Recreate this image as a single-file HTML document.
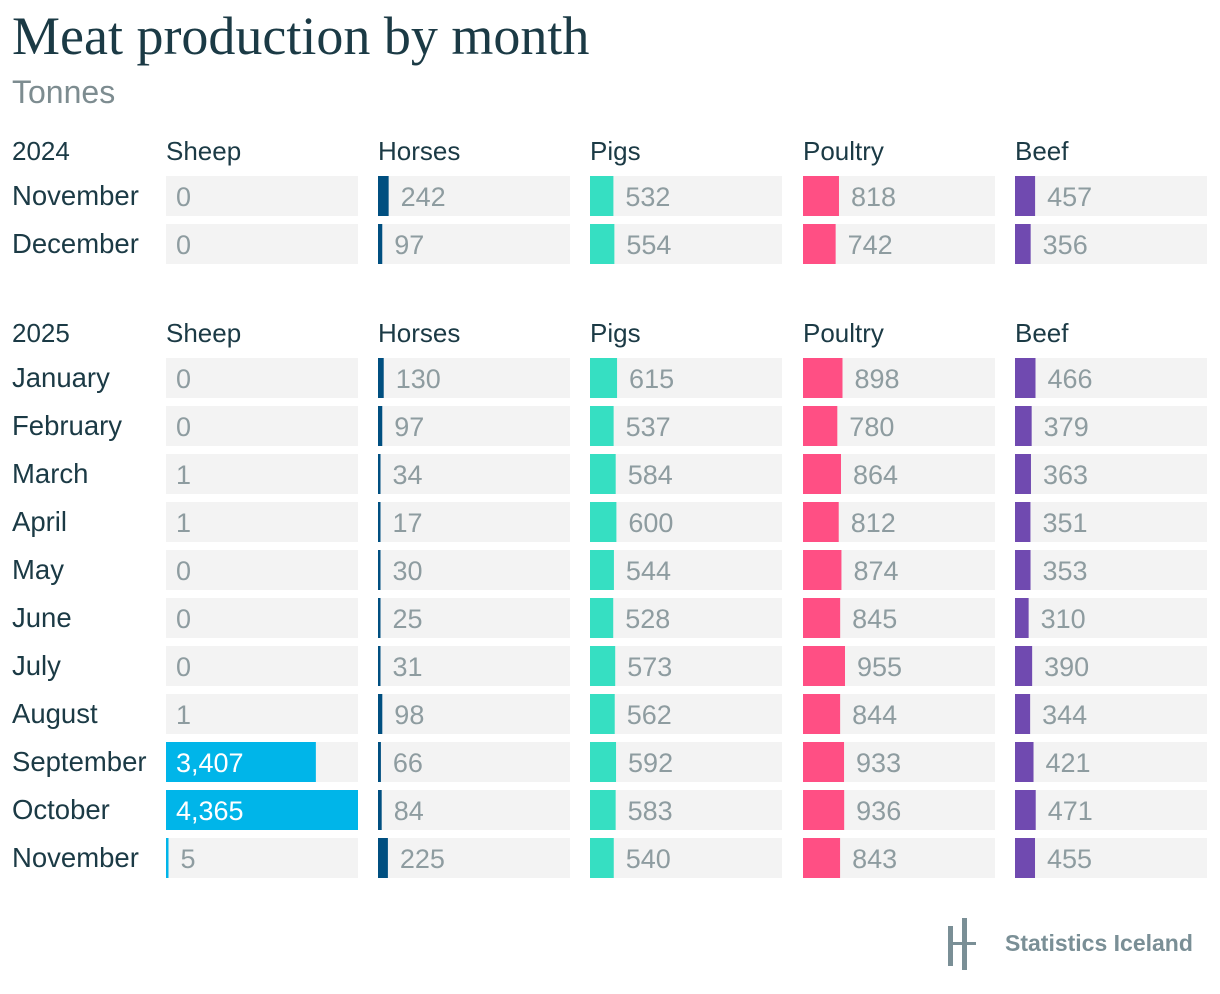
<!DOCTYPE html>
<html><head><meta charset="utf-8"><style>
body{margin:0;background:#fff;width:1220px;height:994px;position:relative;overflow:hidden;font-family:"Liberation Sans",sans-serif;}
.t{position:absolute;white-space:nowrap;}
</style></head><body>
<div class="t" style="left:12px;top:5px;font-family:'Liberation Serif',serif;font-size:54px;color:#1b3a45;">Meat production by month</div>
<div class="t" style="left:12px;top:74px;font-size:32px;color:#7d8c90;font-weight:300;">Tonnes</div>
<svg id="chart" width="1220" height="994" style="position:absolute;left:0;top:0"></svg>
<div class="t" style="left:946px;top:918px;">
<svg width="30" height="52" style="position:absolute;left:0;top:0"><rect x="2" y="8" width="5" height="40" fill="#7a8f96"/><rect x="16" y="0" width="5" height="52" fill="#7a8f96"/><rect x="2" y="24" width="28" height="3" fill="#7a8f96"/></svg>
<span style="position:absolute;left:59px;top:12px;font-size:23px;font-weight:bold;color:#7a8f96;">Statistics Iceland</span></div>
<script>
const categories=["Sheep","Horses","Pigs","Poultry","Beef"];
const months2024=["November","December"];
const months2025=["January","February","March","April","May","June","July","August","September","October","November"];
const sheep2024=[0,0];const horses2024=[242,97];const pigs2024=[532,554];const poultry2024=[818,742];const beef2024=[457,356];
const sheep2025=[0,0,1,1,0,0,0,1,3407,4365,5];
const horses2025=[130,97,34,17,30,25,31,98,66,84,225];
const pigs2025=[615,537,584,600,544,528,573,562,592,583,540];
const poultry2025=[898,780,864,812,874,845,955,844,933,936,843];
const beef2025=[466,379,363,351,353,310,390,344,421,471,455];
const colors=["#00b5e9","#004f80","#36dfc2","#ff4f84","#704ab0"];
const svg=document.getElementById('chart');const NS="http://www.w3.org/2000/svg";
const colX=[166,378,590,803,1015],cellW=192,maxV=4365;
function x(v){return v<2?0:Math.max(2.5,v/maxV*cellW);}
function mk(tag,attrs){const e=document.createElementNS(NS,tag);for(const k in attrs)e.setAttribute(k,attrs[k]);svg.appendChild(e);return e;}
function txt(s,xx,yy,size,fill,weight){const e=mk('text',{x:xx,y:yy,'font-size':size,fill:fill,'font-family':'Liberation Sans, sans-serif','font-weight':weight||'normal'});e.textContent=s;return e;}
function block(year,headY,months,series,rowY){
 const h=txt(year,12,headY,26,'#1b3a45');
 
 
 categories.forEach((c,i)=>{const t=txt(c,colX[i],headY,26,'#1b3a45');
  
  });
 months.forEach((m,r)=>{const y0=rowY+r*48;
  const l=txt(m,12,y0+29,27.5,'#1b3a45');
  
  
  series.forEach((arr,i)=>{const v=arr[r];
   const bg=mk('rect',{x:colX[i],y:y0,width:cellW,height:40,fill:'#f3f3f3'});
   
   
   const w=x(v);
   if(w>0){const b=mk('rect',{x:colX[i],y:y0,width:w,height:40,fill:colors[i]});
    
    }
   const label=v.toLocaleString('en-US');
   const inside=w>80;
   const tx=inside?colX[i]+10:(w>0?colX[i]+w+12:colX[i]+10);
   const t=txt(label,tx,y0+30,27,inside?'#ffffff':'#8e9ca0','300');
   
   });});
}
block('2024',160,months2024,[sheep2024,horses2024,pigs2024,poultry2024,beef2024],176);
block('2025',342,months2025,[sheep2025,horses2025,pigs2025,poultry2025,beef2025],358);
</script>
</body></html>
